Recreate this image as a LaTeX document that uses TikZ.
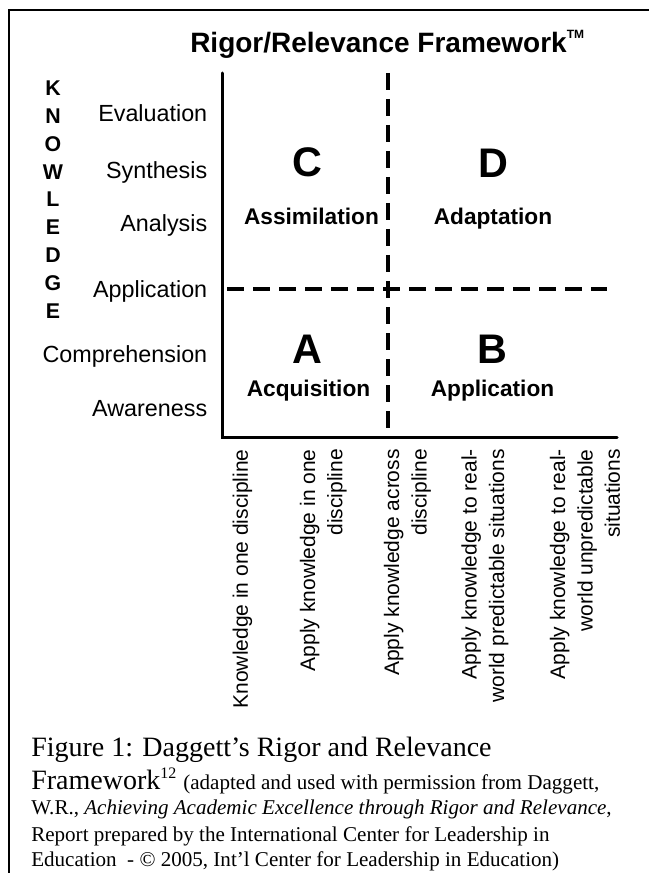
\documentclass[tikz,border=0pt]{standalone}
\usepackage{fontspec}
\setmainfont{Liberation Serif}
\setsansfont{Liberation Sans}
\usetikzlibrary{positioning}

\begin{document}
\begin{tikzpicture}[
    % GLOBAL CFG (one unit = one pixel of the figure)
    x=0.75pt, y=-0.75pt,
    % Styles
    frame/.style={% Outer border of the figure
        line width=1.5pt,
        },
    axis/.style={% Solid axes
        line width=2.25pt,
        line cap=round,
        },
    split/.style={% Dashed quadrant dividers
        line width=3pt,
        dash pattern=on 12.75pt off 6.75pt,
        },
    level/.style={% Knowledge levels on the left
        anchor=base east,
        inner sep=0pt,
        font=\sffamily\fontsize{17.5}{21}\selectfont,
        },
    letter/.style={% Big quadrant letters
        anchor=base,
        inner sep=0pt,
        font=\sffamily\bfseries\fontsize{31}{36}\selectfont,
        },
    quad/.style={% Quadrant names
        anchor=base,
        inner sep=0pt,
        font=\sffamily\bfseries\fontsize{17}{20}\selectfont,
        },
    app/.style={% Application labels under the axis
        rotate=90,
        anchor=east,
        align=right,
        inner sep=0pt,
        font=\sffamily\fontsize{15.75}{20.6}\selectfont,
        },
    capline/.style={% Caption lines
        anchor=base west,
        inner sep=0pt,
        font=\fontsize{15.8}{18}\selectfont,
        },
    capbig/.style={% Large caption text
        capline,
        font=\fontsize{21}{24}\selectfont,
        },
    ]
\useasboundingbox (0,0) rectangle (649,873);
% Border
\coordinate (fbl) at (9,873);
\coordinate (ftl) at (9,10);
\coordinate (ftr) at (649,10);
\draw [frame] (fbl) -- (ftl) -- (ftr);
% Title
\node [anchor=base west, inner sep=0pt, font=\sffamily\bfseries\fontsize{21}{25}\selectfont] (title) at (190,53)
    {Rigor/Relevance Framework\raisebox{11pt}{\fontsize{9}{9}\selectfont TM}};
% Vertical axis name
\node [anchor=north, inner sep=0pt, align=center, font=\sffamily\bfseries\fontsize{16}{20.85}\selectfont] (knowledge) at (53,80.7)
    {K\\N\\O\\W\\L\\E\\D\\G\\E};
% Knowledge levels
\node [level] (eval) at (207.5,121.7) {Evaluation};
\node [level] (synth) at (207.5,178.3) {Synthesis};
\node [level] (anal) at (207.5,231.7) {Analysis};
\node [level] (appl) at (207.5,297.3) {Application};
\node [level] (compr) at (207.5,362) {Comprehension};
\node [level] (aware) at (207.5,416.7) {Awareness};
% Axes and dividers
\coordinate (ytop) at (222,73);
\coordinate (origin) at (222,437);
\coordinate (xend) at (617,437);
\coordinate (vtop) at (388,73);
\coordinate (vbot) at (388,437);
\coordinate (hleft) at (227,289);
\coordinate (hright) at (607,289);
\draw [axis] (ytop) -- (origin) -- (xend);
\draw [split] (vtop) -- (vbot);
\draw [split] (hleft) -- (hright);
% Quadrants
\node [letter] (qc) at (307,177) {C};
\node [letter] (qd) at (493,178) {D};
\node [letter] (qa) at (307,363) {A};
\node [letter] (qb) at (492,363) {B};
\node [quad] (assim) at (311.5,225) {Assimilation};
\node [quad] (adapt) at (493,225) {Adaptation};
\node [quad] (acqui) at (308.5,396.7) {Acquisition};
\node [quad] (applq) at (492.5,396.7) {Application};
% Application scale
\node [app] (app1) at (242.5,449) {Knowledge in one discipline};
\node [app] (app2) at (323.3,449) {Apply knowledge in one\\discipline};
\node [app] (app3) at (407.5,449) {Apply knowledge across\\discipline};
\node [app] (app4) at (485,449) {Apply knowledge to real-\\world predictable situations};
\node [app] (app5) at (585,449) {Apply knowledge to real-\\world unpredictable\\situations};
% Caption
\node [capbig] (cap1) at (31,756) {Figure 1: Daggett’s Rigor and Relevance};
\node [capbig] (cap2) at (31,789)
    {Framework\raisebox{8pt}{\fontsize{12}{12}\selectfont 12} {\fontsize{15.8}{18}\selectfont(adapted and used with permission from Daggett,}};
\node [capline] (cap3) at (31,814) {W.R., \textit{Achieving Academic Excellence through Rigor and Relevance},};
\node [capline] (cap4) at (31,841) {Report prepared by the International Center for Leadership in};
\node [capline] (cap5) at (31,866) {Education~ - © 2005, Int’l Center for Leadership in Education)};
\end{tikzpicture}
\end{document}
